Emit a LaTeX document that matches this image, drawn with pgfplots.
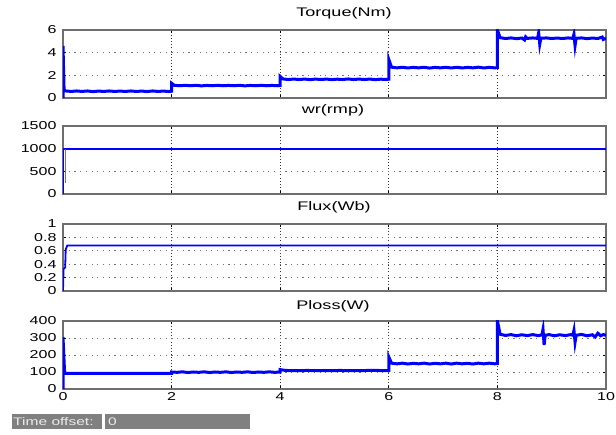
\documentclass[border=0pt]{standalone}
\usepackage{fontspec}
\setmainfont{Liberation Sans}
\usepackage{graphicx}
\usepackage{pgfplots}
\pgfplotsset{compat=1.18}
\newcommand\wide[1]{\scalebox{1.4}[1]{#1}}
\newcommand\twide[1]{\scalebox{1.45}[1]{#1}}
\definecolor{scopeblue}{RGB}{0,0,255}
\definecolor{framegray}{RGB}{110,110,110}
\definecolor{boxgray}{RGB}{128,128,128}
\pgfplotsset{scope/.style={
  scale only axis, width=543bp, height=68bp, anchor=south west,
  xmin=0, xmax=10, xtick={0,2,...,10},
  grid=major,
  x grid style={black!80, line width=0.8pt, dash pattern=on 0.9bp off 2.2bp},
  y grid style={black!55, line width=0.8pt, dash pattern=on 1.2bp off 4.5bp},
  axis line style={framegray, line width=1.3pt},
  tick style={black, line width=0.8pt}, major tick length=3bp, tick align=inside,
  /pgf/number format/assume math mode=true,
  tick label style={font=\fontsize{11.5}{13}\selectfont},
  yticklabel style={xshift=-3bp},
  clip=true,
}}
\begin{document}
\begin{tikzpicture}
\useasboundingbox (0,0) rectangle (616bp,435bp);
% Torque
\begin{axis}[scope, at={(63bp,337bp)}, ymin=0, ymax=6, ytick={0,2,4,6}, yticklabels={\wide{0},\wide{2},\wide{4},\wide{6}}, xticklabels={}]
\addplot[scopeblue, line width=3bp] coordinates {
(0,0)(0,4.6)(0.02,0.72)(0.05,0.62)(0.15,0.58)(0.25,0.62)(0.35,0.58)(0.45,0.62)(0.55,0.56)(0.65,0.61)(0.75,0.58)(0.85,0.62)(0.95,0.58)(1.05,0.61)(1.15,0.58)(1.25,0.62)(1.35,0.58)(1.45,0.61)(1.55,0.57)(1.65,0.62)(1.75,0.58)(1.85,0.61)(1.95,0.57)(2,0.6)
(2,1.3)(2.05,1.12)(2.15,1.08)(2.25,1.12)(2.35,1.08)(2.45,1.12)(2.55,1.07)(2.65,1.11)(2.75,1.08)(2.85,1.12)(2.95,1.08)(3.05,1.11)(3.15,1.08)(3.25,1.12)(3.35,1.07)(3.45,1.11)(3.55,1.08)(3.65,1.12)(3.75,1.08)(3.85,1.11)(3.95,1.08)(4,1.1)
(4,1.9)(4.05,1.68)(4.15,1.63)(4.25,1.67)(4.35,1.63)(4.45,1.67)(4.55,1.62)(4.65,1.67)(4.75,1.63)(4.85,1.67)(4.95,1.62)(5.05,1.66)(5.15,1.63)(5.25,1.68)(5.35,1.63)(5.45,1.67)(5.55,1.63)(5.65,1.67)(5.75,1.62)(5.85,1.66)(5.95,1.63)(6,1.66)
(6,3.4)(6.05,2.72)(6.15,2.66)(6.25,2.71)(6.35,2.65)(6.45,2.7)(6.55,2.66)(6.65,2.71)(6.75,2.64)(6.85,2.7)(6.95,2.66)(7.05,2.71)(7.15,2.65)(7.25,2.71)(7.35,2.65)(7.45,2.7)(7.55,2.66)(7.65,2.72)(7.75,2.65)(7.85,2.7)(7.95,2.66)(8,2.68)
(8,6)(8.05,5.32)(8.15,5.25)(8.25,5.3)(8.35,5.24)(8.45,5.29)(8.5,5.12)(8.52,5.4)(8.55,5.26)(8.65,5.3)(8.74,5.26)(8.76,5.76)(8.78,4.75)(8.8,5.27)(8.9,5.3)(9.0,5.25)(9.1,5.29)(9.2,5.25)(9.3,5.3)(9.39,5.26)(9.41,5.62)(9.43,4.62)(9.45,5.27)(9.55,5.3)(9.65,5.24)(9.75,5.29)(9.85,5.25)(9.93,5.38)(9.95,5.16)(10,5.27)
};
\end{axis}
\node[anchor=base, font=\fontsize{12.5}{14}\selectfont, inner sep=0pt] at (344bp,418bp) {\twide{Torque(Nm)}};
% wr
\begin{axis}[scope, at={(63bp,241bp)}, ymin=0, ymax=1500, ytick={0,500,1000,1500}, yticklabels={\wide{0},\wide{500},\wide{1000},\wide{1500}}, xticklabels={}]
\addplot[scopeblue, line width=1.8bp] coordinates {(0,0)(0,1000)(0.01,1000)(10,1000)};
\addplot[scopeblue!60, line width=1bp] coordinates {(0.04,250)(0.04,1000)};
\end{axis}
\node[anchor=base, font=\fontsize{12.5}{14}\selectfont, inner sep=0pt] at (333bp,321bp) {\twide{wr(rmp)}};
% Flux
\begin{axis}[scope, at={(63bp,144bp)}, height=67bp, ymin=0, ymax=1, ytick={0,0.2,0.4,0.6,0.8,1}, yticklabels={\wide{0},\wide{0.2},\wide{0.4},\wide{0.6},\wide{0.8},\wide{1}}, xticklabels={}]
\addplot[scopeblue, line width=1.8bp] coordinates {(0,0)(0.01,0.33)(0.04,0.35)(0.05,0.62)(0.08,0.68)(10,0.68)};
\end{axis}
\node[anchor=base, font=\fontsize{12.5}{14}\selectfont, inner sep=0pt] at (334bp,224bp) {\twide{Flux(Wb)}};
% Ploss
\begin{axis}[scope, at={(63bp,46bp)}, ymin=0, ymax=400, ytick={0,100,...,400}, yticklabels={\wide{0},\wide{100},\wide{200},\wide{300},\wide{400}}, xticklabels={\wide{0},\wide{2},\wide{4},\wide{6},\wide{8},\wide{10}}]
\addplot[scopeblue, line width=3bp] coordinates {
(0,0)(0,305)(0.03,92)(0.5,92)(1,92)(1.5,92)(2,92)
(2,100)(2.1,98)(2.2,101)(2.3,97)(2.4,100)(2.5,98)(2.6,101)(2.7,97)(2.8,100)(2.9,98)(3.0,101)(3.1,97)(3.2,100)(3.3,98)(3.4,101)(3.5,97)(3.6,100)(3.7,98)(3.8,101)(3.9,98)(4,100)
(4,114)(4.1,109)(4.3,108)(4.5,109)(4.7,108)(4.9,108)(5.1,109)(5.3,108)(5.5,108)(5.7,110)(5.9,108)(6,108)
(6,188)(6.05,152)(6.15,148)(6.25,152)(6.35,147)(6.45,151)(6.55,148)(6.65,152)(6.75,147)(6.85,151)(6.95,148)(7.05,152)(7.15,147)(7.25,152)(7.35,148)(7.45,151)(7.55,147)(7.65,152)(7.75,148)(7.85,152)(7.95,148)(8,150)
(8,400)(8.05,322)(8.15,315)(8.25,320)(8.35,313)(8.45,319)(8.55,314)(8.65,320)(8.75,314)(8.82,318)(8.84,351)(8.86,259)(8.88,316)(8.95,320)(9.05,313)(9.15,319)(9.25,314)(9.35,320)(9.39,316)(9.41,345)(9.43,275)(9.45,316)(9.55,321)(9.65,313)(9.75,319)(9.8,306)(9.85,328)(9.9,313)(9.95,320)(10,316)
};
\end{axis}
\node[anchor=base, font=\fontsize{12.5}{14}\selectfont, inner sep=0pt] at (333bp,125bp) {\twide{Ploss(W)}};
% Time offset panel
\fill[boxgray] (12bp,6bp) rectangle (102bp,21bp);
\fill[boxgray] (105bp,6bp) rectangle (250bp,21bp);
\node[anchor=base west, text=white!92!black, font=\fontsize{11}{13}\selectfont, inner sep=0pt] at (13bp,9.5bp) {\scalebox{1.42}[1]{Time offset:}};
\node[anchor=base west, text=white!92!black, font=\fontsize{11}{13}\selectfont, inner sep=0pt] at (108bp,9.5bp) {\scalebox{1.42}[1]{0}};
\end{tikzpicture}
\end{document}
